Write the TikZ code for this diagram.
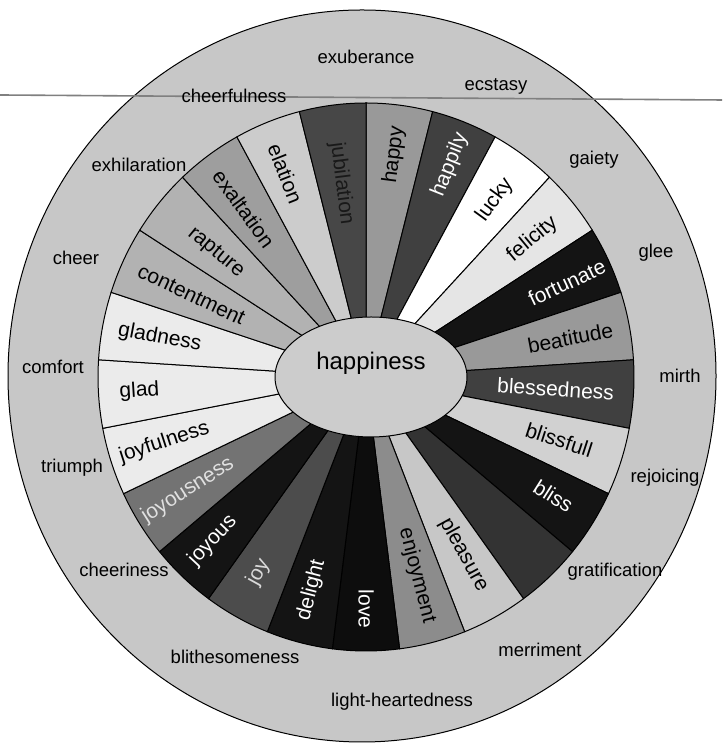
\documentclass[tikz,border=0pt]{standalone}
\usepackage{fontspec}
\setmainfont{Liberation Sans}
\usetikzlibrary{shapes.geometric}
\begin{document}
\begin{tikzpicture}[x=1pt,y=1pt,
  outerlbl/.style={font=\fontsize{18.5}{20}\selectfont, inner sep=0pt},
  seglbl/.style={font=\fontsize{21}{23}\selectfont, inner sep=0pt},
  segline/.style={draw=black, line width=1pt},
  hubstyle/.style={ellipse, draw=black, line width=1pt, fill=black!20, minimum width=192, minimum height=120, inner sep=0pt},
]
\useasboundingbox (0,0) rectangle (722,743);
\fill[white] (0,0) rectangle (722,743);
\coordinate (C) at (366,366);
\coordinate (O) at (362,367);
% outer ring
\draw[line width=1pt, fill=black!22] (O) ellipse [x radius=354, y radius=366];
% scan line
\coordinate (scanL) at (0,648);
\coordinate (scanR) at (722,643);
\draw[black!50, line width=1.6pt] (scanL) -- (scanR);
% wheel segments
\foreach \k/\lbl/\fillc/\txtc/\r in {
  0/happy/40/black/224,
  1/happily/75/white/228,
  2/lucky/0/black/219,
  3/felicity/10/black/216,
  4/fortunate/92/white/222,
  5/beatitude/40/black/208,
  6/blessedness/75/white/190,
  7/blissfull/18/black/203,
  8/bliss/92/white/222,
  9/{}/80/black/210,
  10/pleasure/22/black/203,
  11/enjoyment/45/black/205,
  12/love/95/white/232,
  13/delight/92/white/220,
  14/joy/70/black!15/223,
  15/joyous/92/white/224,
  16/joyousness/55/black!12/211,
  17/joyfulness/8/black/212,
  18/glad/8/black/227,
  19/gladness/8/black/210,
  20/contentment/30/black/193,
  21/rapture/30/black/195,
  22/exaltation/38/black/208,
  23/elation/20/black/219,
  24/jubilation/72/black!90/195} {
  \pgfmathsetmacro{\aone}{90-14.4*(\k+1)}
  \pgfmathsetmacro{\atwo}{90-14.4*\k}
  \pgfmathsetmacro{\amid}{90-14.4*\k-7.2}
  \pgfmathsetmacro{\rot}{ifthenelse(\amid<-90, \amid+180, \amid)}
  \draw[segline, fill=black!\fillc] (C) -- ++(\aone:268 and 274)
     arc[start angle=\aone, end angle=\atwo, x radius=268, y radius=274] -- cycle;
  \node[seglbl, text=\txtc, rotate=\rot] (s\k) at ([shift={(\amid:\r)}]C) {\lbl};
}
% hub
\node[hubstyle] (hub) at (371,366) {};
\node[font=\fontsize{24}{26}\selectfont, inner sep=0pt] (hubtext) at (371,380) {happiness};
% outer labels
\node[outerlbl] (o1) at (366,686) {exuberance};
\node[outerlbl] (o2) at (496,657) {ecstasy};
\node[outerlbl] (o3) at (234,647) {cheerfulness};
\node[outerlbl] (o4) at (139,578) {exhilaration};
\node[outerlbl] (o5) at (594,583) {gaiety};
\node[outerlbl] (o6) at (76,485) {cheer};
\node[outerlbl] (o7) at (656,490) {glee};
\node[outerlbl] (o8) at (53,376) {comfort};
\node[outerlbl] (o9) at (680,367) {mirth};
\node[outerlbl] (o10) at (72,275) {triumph};
\node[outerlbl] (o11) at (665,265) {rejoicing};
\node[outerlbl] (o12) at (124,173) {cheeriness};
\node[outerlbl] (o13) at (615,171) {gratification};
\node[outerlbl] (o14) at (235,86) {blithesomeness};
\node[outerlbl] (o15) at (540,93) {merriment};
\node[outerlbl] (o16) at (402,41) {light-heartedness};
\end{tikzpicture}
\end{document}
